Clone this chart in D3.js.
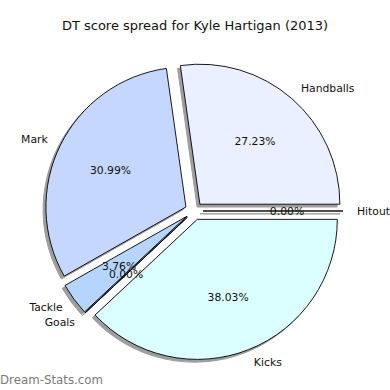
<!DOCTYPE html>
<meta charset="utf-8">
<script src="https://d3js.org/d3.v7.min.js"></script>
<style>
  body { margin: 0; background: #fff; }
  text { font-family: "DejaVu Sans", sans-serif; }
</style>
<svg id="chart" width="390" height="390"></svg>
<script>

// DT points per category, in the order they go round (counter-clockwise from 3 o'clock)
var categories = ["Handballs", "Mark", "Tackle", "Goals", "Kicks", "Hitout"];
var points = [116, 132, 16, 0, 162, 0];
var colors = ["#eaf0ff", "#c5d7ff", "#b5d5ff", "#a8c8f0", "#dbffff", "#f0f0f0"];

var svg = d3.select("#chart"),
  width = +svg.attr("width"),
  height = +svg.attr("height");

var cx = 194, cy = 211, r = 140, explode = 9;

var total = d3.sum(points);

// counter-clockwise, starting at 3 o'clock, like the original
var pie = d3.pie().sort(null)
  .startAngle(Math.PI / 2)
  .endAngle(Math.PI / 2 - 2 * Math.PI);

var arcs = pie(points);
var arc = d3.arc().innerRadius(0).outerRadius(r);

function mid(d) { return (d.startAngle + d.endAngle) / 2; }
function at(d, dist) {
  var a = mid(d);
  return [cx + Math.sin(a) * dist, cy - Math.cos(a) * dist];
}

var g = svg.append("g");

// shadows first, under every wedge
g.selectAll("path.shadow")
  .data(arcs)
  .enter().append("path")
    .attr("class", "shadow")
    .attr("transform", function(d) {
      var p = at(d, explode);
      return "translate(" + (p[0] - 2.8) + "," + (p[1] + 2.8) + ")";
    })
    .attr("d", arc)
    .attr("fill", "#9e9e9e")
    .attr("stroke", "#9e9e9e")
    .attr("stroke-width", 1);

// wedges
g.selectAll("path.wedge")
  .data(arcs)
  .enter().append("path")
    .attr("class", "wedge")
    .attr("transform", function(d) {
      var p = at(d, explode);
      return "translate(" + p[0] + "," + p[1] + ")";
    })
    .attr("d", arc)
    .attr("fill", function(d, i) { return colors[i]; })
    .attr("stroke", "#000")
    .attr("stroke-width", 0.9)
    .attr("stroke-linejoin", "round");

// percentage labels
g.selectAll("text.pct")
  .data(arcs)
  .enter().append("text")
    .attr("class", "pct")
    .attr("x", function(d) { return at(d, explode + 0.6 * r)[0]; })
    .attr("y", function(d) { return at(d, explode + 0.6 * r)[1]; })
    .attr("dy", "0.35em")
    .attr("text-anchor", "middle")
    .attr("font-size", 10.8)
    .attr("fill", "#111")
    .text(function(d) { return (100 * d.value / total).toFixed(2) + "%"; });

// category labels
g.selectAll("text.lab")
  .data(arcs)
  .enter().append("text")
    .attr("class", "lab")
    .attr("x", function(d) { return at(d, explode + 1.1 * r)[0]; })
    .attr("y", function(d) { return at(d, explode + 1.1 * r)[1]; })
    .attr("dy", "0.35em")
    .attr("text-anchor", function(d) { return Math.sin(mid(d)) < 0 ? "end" : "start"; })
    .attr("font-size", 10.8)
    .attr("fill", "#111")
    .text(function(d, i) { return categories[i]; });

// title
svg.append("text")
  .attr("x", 195)
  .attr("y", 30)
  .attr("text-anchor", "middle")
  .attr("font-size", 13)
  .attr("fill", "#111")
  .text("DT score spread for Kyle Hartigan (2013)");

// watermark
svg.append("text")
  .attr("x", 0)
  .attr("y", 384)
  .attr("font-size", 11.8)
  .attr("fill", "#7a7a7a")
  .text("Dream-Stats.com");

</script>
